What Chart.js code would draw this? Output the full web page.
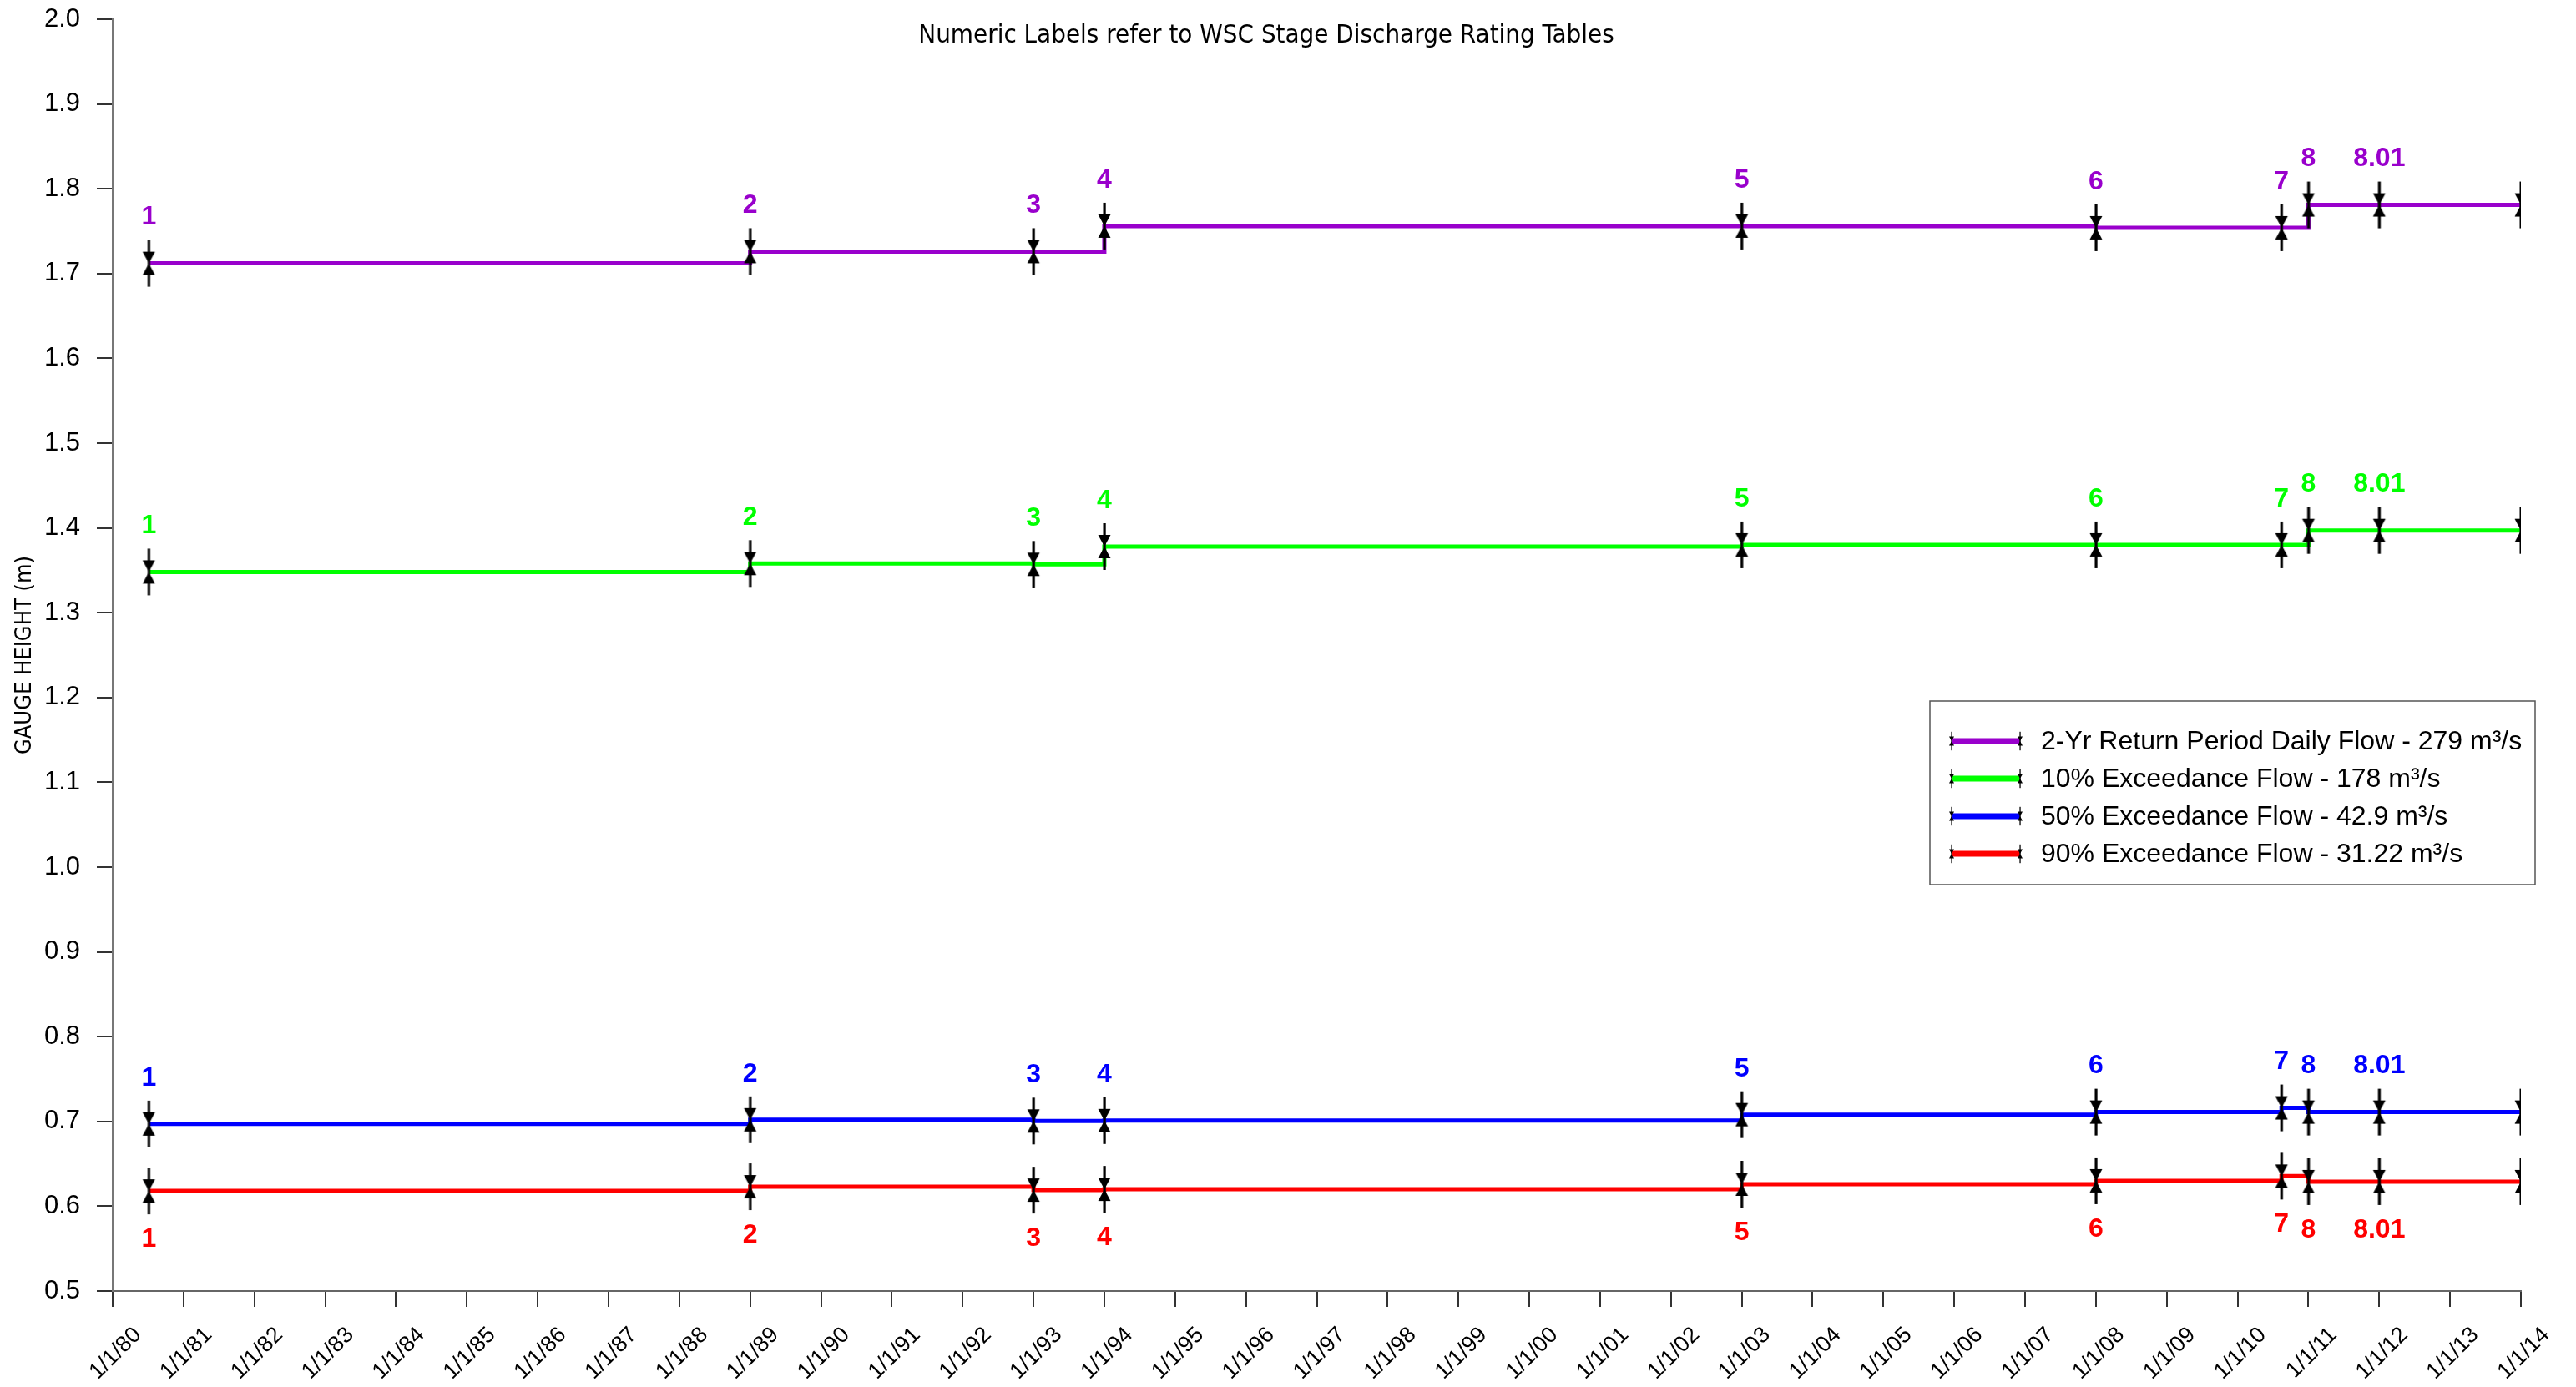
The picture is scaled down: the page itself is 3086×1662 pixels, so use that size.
<!DOCTYPE html>
<html>
<head>
<meta charset="utf-8">
<script src="https://cdn.jsdelivr.net/npm/chart.js@4.4.0/dist/chart.umd.min.js"></script>
<style>
html,body{margin:0;padding:0;background:#ffffff;}
#wrap{width:3086px;height:1662px;position:relative;}
</style>
</head>
<body>
<div id="wrap"><canvas id="c"></canvas></div>
<script>
// ---- data ----
const pointYears  = [1980.51, 1989.0, 1993.0, 1994.0, 2003.0, 2008.0, 2010.62, 2011.0, 2012.0, 2014.0];
const pointLabels = ["1", "2", "3", "4", "5", "6", "7", "8", "8.01", ""];
const twoYrValues  = [1.712, 1.726, 1.726, 1.756, 1.756, 1.754, 1.754, 1.781, 1.781, 1.781];
const exc10Values  = [1.348, 1.358, 1.357, 1.378, 1.380, 1.380, 1.380, 1.397, 1.397, 1.397];
const exc50Values  = [0.697, 0.702, 0.7005, 0.701, 0.708, 0.711, 0.716, 0.711, 0.711, 0.711];
const exc90Values  = [0.618, 0.623, 0.619, 0.620, 0.626, 0.630, 0.6355, 0.629, 0.629, 0.629];
const seriesNames  = ["2-Yr Return Period Daily Flow - 279 m\u00B3/s",
                      "10% Exceedance Flow - 178 m\u00B3/s",
                      "50% Exceedance Flow - 42.9 m\u00B3/s",
                      "90% Exceedance Flow - 31.22 m\u00B3/s"];
const seriesColors = ["#9900CC", "#00FF00", "#0000FF", "#FF0000"];
const labelSides   = ["above", "above", "above", "below"];
const xMin = 1980, xMax = 2014;
const yMin = 0.5, yMax = 2.0, yStep = 0.1;
const titleText = "Numeric Labels refer to WSC Stage Discharge Rating Tables";
const yAxisTitle = "GAUGE HEIGHT (m)";

// ---- marker (double arrow) ----
function makeMarker(s) {
  const c = document.createElement('canvas');
  c.width = Math.round(20 * s); c.height = Math.round(60 * s);
  const g = c.getContext('2d');
  g.scale(s, s);
  g.fillStyle = '#000';
  g.fillRect(8.5, 2, 3.2, 56);
  g.beginPath(); g.moveTo(2.5, 16); g.lineTo(17.5, 16); g.lineTo(10, 30); g.closePath(); g.fill();
  g.beginPath(); g.moveTo(2.5, 44); g.lineTo(17.5, 44); g.lineTo(10, 30); g.closePath(); g.fill();
  return c;
}
const marker = makeMarker(1);
const smallMarker = makeMarker(0.4);

const allValues = [twoYrValues, exc10Values, exc50Values, exc90Values];
const datasets = allValues.map((vals, i) => ({
  label: seriesNames[i],
  data: pointYears.map((x, j) => ({x: x, y: vals[j]})),
  borderColor: seriesColors[i],
  backgroundColor: seriesColors[i],
  borderWidth: 5,
  stepped: 'before',
  pointStyle: marker,
  pointRadius: 10,
  fill: false,
  tension: 0
}));

const annotPlugin = {
  id: 'annot',
  afterDatasetsDraw(chart) {
    const ctx = chart.ctx;
    ctx.save();
    ctx.font = 'bold 32px "Liberation Sans", Arial, sans-serif';
    ctx.textAlign = 'center';
    ctx.textBaseline = 'middle';
    chart.data.datasets.forEach((ds, i) => {
      const meta = chart.getDatasetMeta(i);
      ctx.fillStyle = seriesColors[i];
      meta.data.forEach((pt, j) => {
        const t = pointLabels[j];
        if (!t) return;
        const y = labelSides[i] === 'above' ? pt.y - 55 : pt.y + 58;
        ctx.fillText(t, pt.x, y);
      });
    });
    ctx.restore();
  },
  afterDraw(chart) {
    const ctx = chart.ctx;
    ctx.save();
    // title
    ctx.fillStyle = '#000';
    ctx.font = '31px "DejaVu Sans Condensed", "DejaVu Sans", sans-serif';
    ctx.textAlign = 'center';
    ctx.textBaseline = 'middle';
    ctx.fillText(titleText, 1517, 43);
    // legend
    const bx = 2312, by = 840, bw = 725, bh = 220;
    ctx.fillStyle = '#fff';
    ctx.fillRect(bx, by, bw, bh);
    ctx.strokeStyle = '#555';
    ctx.lineWidth = 1.5;
    ctx.strokeRect(bx, by, bw, bh);
    ctx.font = '32px "Liberation Sans", Arial, sans-serif';
    ctx.textAlign = 'left';
    chart.data.datasets.forEach((ds, i) => {
      const y = 888 + i * 45;
      ctx.strokeStyle = seriesColors[i];
      ctx.lineWidth = 7;
      ctx.beginPath(); ctx.moveTo(2338, y); ctx.lineTo(2420, y); ctx.stroke();
      ctx.drawImage(smallMarker, 2338 - smallMarker.width / 2, y - smallMarker.height / 2);
      ctx.drawImage(smallMarker, 2420 - smallMarker.width / 2, y - smallMarker.height / 2);
      ctx.fillStyle = '#000';
      ctx.fillText(ds.label, 2445, y + 1);
    });
    ctx.restore();
  }
};

new Chart(document.getElementById('c'), {
  type: 'line',
  data: { datasets: datasets },
  plugins: [annotPlugin],
  options: {
    responsive: true,
    maintainAspectRatio: false,
    animation: false,
    layout: { padding: { top: 23, right: 66, left: 0, bottom: 0 } },
    plugins: { legend: { display: false }, title: { display: false }, tooltip: { enabled: false } },
    scales: {
      x: {
        type: 'linear',
        min: xMin, max: xMax,
        afterFit(s) { s.height = 115; s.paddingLeft = 0; s.paddingRight = 0; },
        afterBuildTicks(s) { const t = []; for (let v = xMin; v <= xMax; v++) t.push({value: v}); s.ticks = t; },
        ticks: {
          stepSize: 1, autoSkip: false, maxRotation: 45, minRotation: 45,
          color: '#000', padding: 18, labelOffset: 30,
          font: { family: '"Liberation Sans", Arial, sans-serif', size: 27 },
          callback: v => '1/1/' + String(v % 100).padStart(2, '0')
        },
        grid: { drawOnChartArea: false, drawTicks: true, tickLength: 19, color: '#333', lineWidth: 2 },
        border: { color: '#666', width: 2 }
      },
      y: {
        min: yMin, max: yMax,
        afterFit(s) { s.width = 135; s.paddingTop = 0; s.paddingBottom = 0; },
        ticks: {
          stepSize: yStep, color: '#000', padding: 20,
          font: { family: '"Liberation Sans", Arial, sans-serif', size: 31 },
          callback: v => Number(v).toFixed(1)
        },
        grid: { drawOnChartArea: false, drawTicks: true, tickLength: 19, color: '#333', lineWidth: 2 },
        border: { color: '#777', width: 2 },
        title: {
          display: true, text: yAxisTitle, color: '#000',
          font: { family: '"DejaVu Sans Condensed", "DejaVu Sans", sans-serif', size: 27 },
          padding: { top: 14, bottom: 0 }
        }
      }
    }
  }
});
</script>
</body>
</html>
